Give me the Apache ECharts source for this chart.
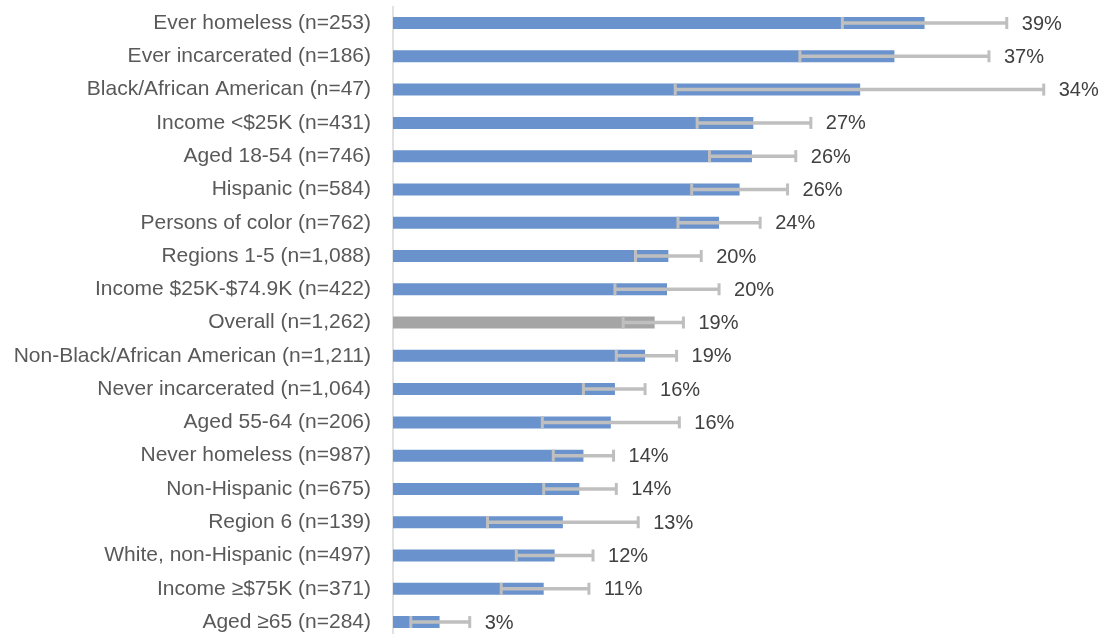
<!DOCTYPE html>
<html>
<head>
<meta charset="utf-8">
<script src="https://cdn.jsdelivr.net/npm/echarts@6/dist/echarts.min.js"></script>
<style>
html,body{margin:0;padding:0;background:#fff;}
#chart{width:1103px;height:634px;}
</style>
</head>
<body>
<div id="chart"></div>
<script>
const categories = [
  'Ever homeless (n=253)',
  'Ever incarcerated (n=186)',
  'Black/African American (n=47)',
  'Income <$25K (n=431)',
  'Aged 18-54 (n=746)',
  'Hispanic (n=584)',
  'Persons of color (n=762)',
  'Regions 1-5 (n=1,088)',
  'Income $25K-$74.9K (n=422)',
  'Overall (n=1,262)',
  'Non-Black/African American (n=1,211)',
  'Never incarcerated (n=1,064)',
  'Aged 55-64 (n=206)',
  'Never homeless (n=987)',
  'Non-Hispanic (n=675)',
  'Region 6 (n=139)',
  'White, non-Hispanic (n=497)',
  'Income \u2265$75K (n=371)',
  'Aged \u226565 (n=284)'
];
const values = [38.8, 36.6, 34.1, 26.3, 26.2, 25.3, 23.8, 20.1, 20.0, 19.1, 18.4, 16.2, 15.9, 13.9, 13.6, 12.4, 11.8, 11.0, 3.4];
const ciLow  = [32.8, 29.7, 20.6, 22.2, 23.1, 21.8, 20.8, 17.7, 16.2, 16.8, 16.3, 13.9, 10.9, 11.7, 11.0, 6.9, 9.0, 7.9, 1.3];
const ciHigh = [44.8, 43.5, 47.5, 30.5, 29.4, 28.8, 26.8, 22.5, 23.8, 21.2, 20.7, 18.4, 20.9, 16.1, 16.3, 17.9, 14.6, 14.3, 5.6];
const valueLabels = ['39%', '37%', '34%', '27%', '26%', '26%', '24%', '20%', '20%', '19%', '19%', '16%', '16%', '14%', '14%', '13%', '12%', '11%', '3%'];
const highlightCategory = 'Overall (n=1,262)';

const FONT = '"Liberation Sans", Arial, sans-serif';
const BLUE = '#6A93CD';
const GREY = '#A5A5A5';
const ERR = '#BFBFBF';

const chart = echarts.init(document.getElementById('chart'), null, {renderer: 'canvas'});

const barData = values.map((v, i) => ({
  value: v,
  itemStyle: {color: categories[i] === highlightCategory ? GREY : BLUE}
}));
const errData = values.map((v, i) => [ciLow[i], ciHigh[i], i]);

chart.setOption({
  animation: false,
  backgroundColor: '#ffffff',
  grid: {left: 393, top: 6.4, width: 685, height: 632.3, containLabel: false, outerBoundsMode: 'none'},
  xAxis: {
    type: 'value', min: 0, max: 50,
    show: false,
    splitLine: {show: false}
  },
  yAxis: {
    type: 'category',
    inverse: true,
    data: categories,
    axisLine: {show: true, lineStyle: {color: '#D9D9D9', width: 1.5}},
    axisTick: {show: false},
    axisLabel: {
      margin: 22,
      fontSize: 21,
      fontFamily: FONT,
      color: '#595959'
    },
    splitLine: {show: false}
  },
  series: [
    {
      type: 'bar',
      data: barData,
      barWidth: 12,
      z: 2
    },
    {
      type: 'custom',
      z: 3,
      clip: false,
      encode: {x: [0, 1], y: 2},
      data: errData,
      renderItem: function (params, api) {
        const lo = api.coord([api.value(0), api.value(2)]);
        const hi = api.coord([api.value(1), api.value(2)]);
        const y = lo[1];
        const capH = 6;
        const st = {stroke: ERR, lineWidth: 3.5};
        const cst = {stroke: ERR, lineWidth: 3};
        return {
          type: 'group',
          children: [
            {type: 'line', shape: {x1: lo[0], y1: y, x2: hi[0], y2: y}, style: st},
            {type: 'line', shape: {x1: lo[0], y1: y - capH, x2: lo[0], y2: y + capH}, style: cst},
            {type: 'line', shape: {x1: hi[0], y1: y - capH, x2: hi[0], y2: y + capH}, style: cst},
            {
              type: 'text',
              style: {
                text: valueLabels[params.dataIndex],
                x: hi[0] + 15,
                y: y + 1,
                align: 'left',
                verticalAlign: 'middle',
                fill: '#404040',
                fontSize: 20,
                fontFamily: FONT
              }
            }
          ]
        };
      }
    }
  ]
});
</script>
</body>
</html>
